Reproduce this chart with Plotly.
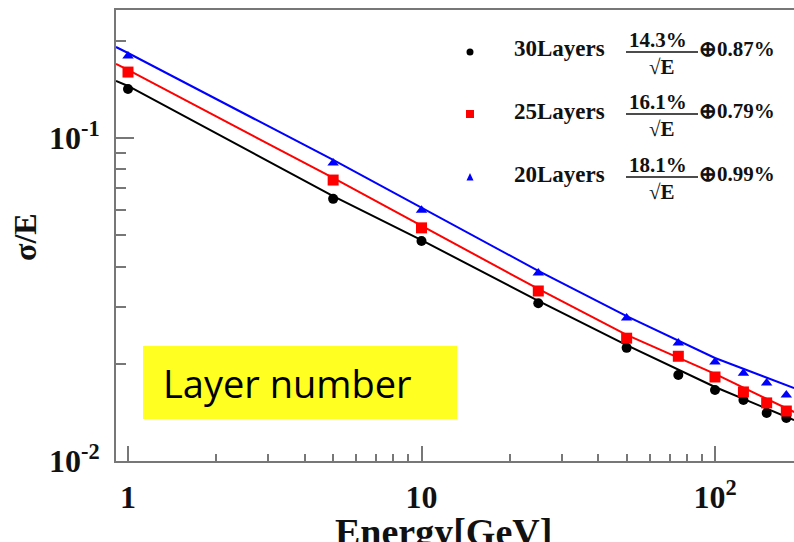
import plotly.graph_objects as go

# ---------------- data ----------------
energy = [1, 5, 10, 25, 50, 75, 100, 125, 150, 175]
res_30 = [0.1418, 0.0648, 0.0480, 0.0308, 0.0224, 0.01846, 0.01659, 0.01545, 0.01408, 0.01359]
res_25 = [0.160, 0.0741, 0.0527, 0.0336, 0.0240, 0.0211, 0.0182, 0.01636, 0.01513, 0.01428]
res_20 = [0.1795, 0.0837, 0.0598, 0.0382, 0.0277, 0.0232, 0.02025, 0.0187, 0.01744, 0.0160]

fit_energy = [0.91, 1, 5, 10, 25, 50, 100, 186]
fit_30 = [0.1501, 0.1449, 0.0661, 0.0483, 0.0313, 0.02286, 0.01695, 0.01339]
fit_25 = [0.1695, 0.1624, 0.0752, 0.0534, 0.0341, 0.02456, 0.0186, 0.01418]
fit_20 = [0.1913, 0.1833, 0.0855, 0.0607, 0.0388, 0.0281, 0.02084, 0.01683]

legend_names = ["30Layers", "25Layers", "20Layers"]
legend_stoch = ["14.3%", "16.1%", "18.1%"]
legend_const = ["⊕0.87%", "⊕0.79%", "⊕0.99%"]

x_major = [1, 10, 100]
x_major_text = ["<b>1</b>", "<b>10</b>", "<b>10<sup>2</sup></b>"]
x_minor = [2, 3, 4, 5, 6, 7, 8, 9, 20, 30, 40, 50, 60, 70, 80, 90]
y_major = [0.01, 0.1]
y_major_text = ["<b>10<sup>-2</sup></b>", "<b>10<sup>-1</sup></b>"]
y_minor = [0.02, 0.03, 0.04, 0.05, 0.06, 0.07, 0.08, 0.09, 0.2]

colors = ["#000000", "#FF0000", "#0000FF"]
symbols = ["circle", "square", "triangle-up"]
msizes = [10, 11, 10]

# ---------------- figure ----------------
W, H = 794, 542
L, R, T, B = 116, 794, 10, 461

def px(x):
    return (x - L) / (R - L)

def py(y):
    return (B - y) / (B - T)

fig = go.Figure()
series = [res_30, res_25, res_20]
fits = [fit_30, fit_25, fit_20]
for i in range(3):
    fig.add_trace(go.Scatter(x=fit_energy, y=fits[i], mode="lines",
                             line=dict(color=colors[i], width=2), showlegend=False,
                             hoverinfo="skip"))
for i in range(3):
    fig.add_trace(go.Scatter(x=energy, y=series[i], mode="markers",
                             marker=dict(color=colors[i], symbol=symbols[i], size=msizes[i]),
                             name=legend_names[i], showlegend=False))

serif = "Liberation Serif"
axcol = "#777777"
tickfont = dict(family=serif, size=32, color="#111111")

fig.update_xaxes(type="log", range=[-0.0409, 2.2692],
                 tickvals=x_major, ticktext=x_major_text, tickfont=tickfont,
                 ticks="inside", ticklen=15, tickwidth=1.5, tickcolor=axcol,
                 minor=dict(tickvals=x_minor, ticks="inside", ticklen=7, tickwidth=1.5,
                            tickcolor=axcol, showgrid=False),
                 showline=True, linecolor=axcol, linewidth=2, mirror=True,
                 showgrid=False, zeroline=False, ticklabelstandoff=7)
fig.update_yaxes(type="log", range=[-2.0, -0.6037],
                 tickvals=y_major, ticktext=y_major_text, tickfont=tickfont,
                 ticks="inside", ticklen=18, tickwidth=1.5, tickcolor=axcol,
                 minor=dict(tickvals=y_minor, ticks="inside", ticklen=10, tickwidth=1.5,
                            tickcolor=axcol, showgrid=False),
                 showline=True, linecolor=axcol, linewidth=2, mirror=False,
                 showgrid=False, zeroline=False, ticklabelstandoff=8)

shapes = []
annotations = []

# yellow box
shapes.append(dict(type="rect", xref="paper", yref="paper",
                   x0=px(143), x1=px(457), y0=py(419), y1=py(346),
                   fillcolor="#FFFF22", line=dict(width=0), layer="above"))
annotations.append(dict(xref="paper", yref="paper", x=px(161), y=py(383),
                        xanchor="left", yanchor="middle", showarrow=False,
                        text="Layer number",
                        font=dict(family="Open Sans", size=38, color="#000000")))

# axis titles
annotations.append(dict(xref="paper", yref="paper", x=px(443), y=py(509),
                        xanchor="center", yanchor="top", showarrow=False,
                        text="<b>Energy[GeV]</b>",
                        font=dict(family=serif, size=38, color="#111111")))
annotations.append(dict(xref="paper", yref="paper", x=px(25), y=py(237),
                        xanchor="center", yanchor="middle", showarrow=False,
                        textangle=-90, text="<b>σ/E</b>",
                        font=dict(family=serif, size=32, color="#111111")))

# legend block
row_y = [49, 111, 174]
for i in range(3):
    yc = row_y[i]
    mx, my = px(470), py(yc + 3)
    if i == 0:
        shapes.append(dict(type="circle", xref="paper", yref="paper",
                           xsizemode="pixel", ysizemode="pixel", xanchor=mx, yanchor=my,
                           x0=-3.5, x1=3.5, y0=-3.5, y1=3.5,
                           fillcolor=colors[i], line=dict(width=0)))
    elif i == 1:
        shapes.append(dict(type="rect", xref="paper", yref="paper",
                           xsizemode="pixel", ysizemode="pixel", xanchor=mx, yanchor=my,
                           x0=-4, x1=4, y0=-4, y1=4,
                           fillcolor=colors[i], line=dict(width=0)))
    else:
        shapes.append(dict(type="path", xref="paper", yref="paper",
                           xsizemode="pixel", ysizemode="pixel", xanchor=mx, yanchor=my,
                           path="M -3.5 -3.5 L 3.5 -3.5 L 0 4 Z",
                           fillcolor=colors[i], line=dict(width=0)))
    annotations.append(dict(xref="paper", yref="paper", x=px(512), y=py(yc),
                            xanchor="left", yanchor="middle", showarrow=False,
                            text="<b>%s</b>" % legend_names[i],
                            font=dict(family=serif, size=23, color="#111111")))
    annotations.append(dict(xref="paper", yref="paper", x=px(658), y=py(yc - 9),
                            xanchor="center", yanchor="middle", showarrow=False,
                            text="<b>%s</b>" % legend_stoch[i],
                            font=dict(family=serif, size=21, color="#111111")))
    shapes.append(dict(type="line", xref="paper", yref="paper",
                       x0=px(626), x1=px(698), y0=py(yc + 3), y1=py(yc + 3),
                       line=dict(color="#111111", width=1.5)))
    annotations.append(dict(xref="paper", yref="paper", x=px(662), y=py(yc + 18),
                            xanchor="center", yanchor="middle", showarrow=False,
                            text="<b>√E</b>",
                            font=dict(family=serif, size=21, color="#111111")))
    annotations.append(dict(xref="paper", yref="paper", x=px(697), y=py(yc),
                            xanchor="left", yanchor="middle", showarrow=False,
                            text="<b>%s</b>" % legend_const[i],
                            font=dict(family=serif, size=21, color="#111111")))

fig.update_layout(width=W, height=H,
                  margin=dict(l=L, r=W - R, t=T, b=H - B, pad=0),
                  paper_bgcolor="white", plot_bgcolor="white",
                  shapes=shapes, annotations=annotations, showlegend=False)

fig.write_html("out.html")
